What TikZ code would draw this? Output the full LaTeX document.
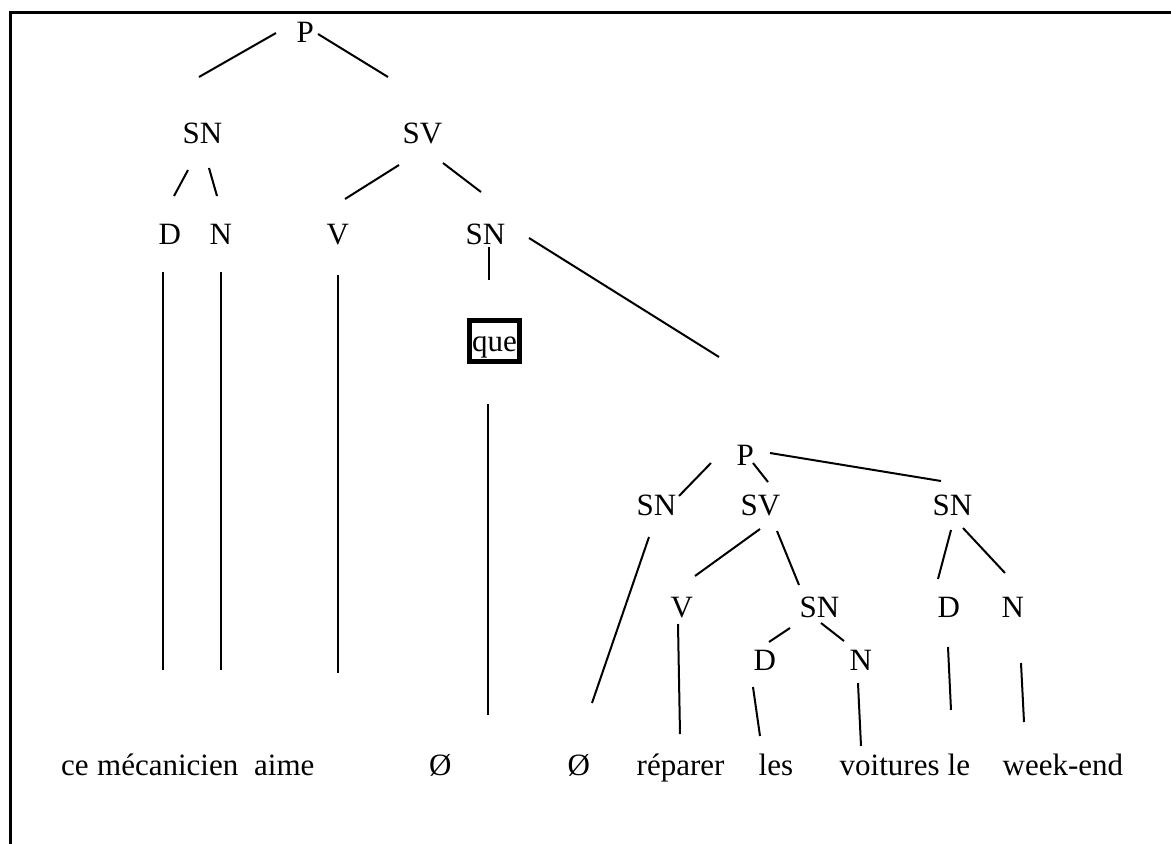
\documentclass[tikz,border=0pt]{standalone}
\usepackage{fontspec}
\setmainfont{Liberation Serif}
\begin{document}
\begin{tikzpicture}[x=1pt,y=-1pt,
  lbl/.style={anchor=base west, inner sep=0pt, font=\fontsize{31}{37}\selectfont},
  link/.style={line width=2pt},
  framebox/.style={draw, line width=5pt, inner xsep=2.5pt, inner ysep=2.5pt,
    text height=28pt, text depth=8pt, font=\fontsize{31}{37}\selectfont}]
\useasboundingbox (0,0) rectangle (1171,844);
% frame (top and left sides)
\draw[line width=3pt] (10,844) -- (10,12.5) -- (1171,12.5);

% main clause
\node[lbl] (P1)  at (296.5,42)  {P};
\node[lbl] (SN1) at (182.5,143) {SN};
\node[lbl] (SV1) at (402.5,143) {SV};
\node[lbl] (D1)  at (158.5,244) {D};
\node[lbl] (N1)  at (209.5,244) {N};
\node[lbl] (V1)  at (326.5,244) {V};
\node[lbl] (SN2) at (465.5,244) {SN};
\node[framebox] (que) at (494.5,341) {que};

% embedded clause
\node[lbl] (P2)  at (736.5,465) {P};
\node[lbl] (SN3) at (636.5,515) {SN};
\node[lbl] (SV3) at (740.5,515) {SV};
\node[lbl] (SN4) at (932.5,515) {SN};
\node[lbl] (V3)  at (670.5,617) {V};
\node[lbl] (SN5) at (799.5,617) {SN};
\node[lbl] (D4)  at (937.5,617) {D};
\node[lbl] (N4)  at (1001.5,617) {N};
\node[lbl] (D5)  at (753.5,670) {D};
\node[lbl] (N5)  at (849.5,670) {N};

% terminal words
\node[lbl] (w1)  at (61,775)    {ce};
\node[lbl] (w2)  at (97,775)    {mécanicien};
\node[lbl] (w3)  at (254,775)   {aime};
\node[lbl] (w4)  at (429,775)   {Ø};
\node[lbl] (w5)  at (567.5,775) {Ø};
\node[lbl] (w6)  at (636.5,775) {réparer};
\node[lbl] (w7)  at (758.5,775) {les};
\node[lbl] (w8)  at (839.5,775) {voitures};
\node[lbl] (w9)  at (947.5,775) {le};
\node[lbl] (w10) at (1002.5,775) {week-end};

% branches of the main clause
\draw[link] ([shift={(-20.5,-9)}]P1.base west) -- ([shift={(16.5,-66)}]SN1.base west);
\draw[link] ([shift={(21.5,-8)}]P1.base west) -- ([shift={(-14.5,-66)}]SV1.base west);
\draw[link] ([shift={(5.5,27)}]SN1.base west) -- ([shift={(15.5,-48)}]D1.base west);
\draw[link] ([shift={(26.5,25)}]SN1.base west) -- ([shift={(7.5,-48)}]N1.base west);
\draw[link] ([shift={(-3.5,22)}]SV1.base west) -- ([shift={(18.5,-45)}]V1.base west);
\draw[link] ([shift={(40.5,20)}]SV1.base west) -- ([shift={(15.5,-52)}]SN2.base west);
\draw[link] ([shift={(4.5,28)}]D1.base west) -- ([shift={(102,-105)}]w1.base west);
\draw[link] ([shift={(11.5,28)}]N1.base west) -- ([shift={(124,-105)}]w2.base west);
\draw[link] ([shift={(11.5,31)}]V1.base west) -- ([shift={(84,-102)}]w3.base west);
\draw[link] ([shift={(23.5,3)}]SN2.base west) -- ([shift={(-5.5,-61)}]que.center);
\draw[link] ([shift={(-6.5,63)}]que.center) -- ([shift={(59,-60)}]w4.base west);
\draw[link] ([shift={(63.5,-6)}]SN2.base west) -- ([shift={(-17.5,-108)}]P2.base west);

% branches of the embedded clause
\draw[link] ([shift={(-25.5,-2)}]P2.base west) -- ([shift={(42.5,-19)}]SN3.base west);
\draw[link] ([shift={(16.5,-2)}]P2.base west) -- ([shift={(27.5,-33)}]SV3.base west);
\draw[link] ([shift={(33.5,-12)}]P2.base west) -- ([shift={(8.5,-34)}]SN4.base west);
\draw[link] ([shift={(12.5,22)}]SN3.base west) -- ([shift={(24.5,-72)}]w5.base west);
\draw[link] ([shift={(19.5,14)}]SV3.base west) -- ([shift={(24.5,-41)}]V3.base west);
\draw[link] ([shift={(36.5,16)}]SV3.base west) -- ([shift={(-0.5,-32)}]SN5.base west);
\draw[link] ([shift={(7.5,7)}]V3.base west) -- ([shift={(43.5,-41)}]w6.base west);
\draw[link] ([shift={(-9.5,11)}]SN5.base west) -- ([shift={(15.5,-28)}]D5.base west);
\draw[link] ([shift={(21.5,6)}]SN5.base west) -- ([shift={(-5.5,-29)}]N5.base west);
\draw[link] ([shift={(-0.5,17)}]D5.base west) -- ([shift={(1.5,-39)}]w7.base west);
\draw[link] ([shift={(8.5,13)}]N5.base west) -- ([shift={(21.5,-29)}]w8.base west);
\draw[link] ([shift={(18.5,15)}]SN4.base west) -- ([shift={(0.5,-38)}]D4.base west);
\draw[link] ([shift={(30.5,13)}]SN4.base west) -- ([shift={(3.5,-44)}]N4.base west);
\draw[link] ([shift={(10.5,30)}]D4.base west) -- ([shift={(3.5,-65)}]w9.base west);
\draw[link] ([shift={(19.5,46)}]N4.base west) -- ([shift={(21.5,-53)}]w10.base west);
\end{tikzpicture}
\end{document}
